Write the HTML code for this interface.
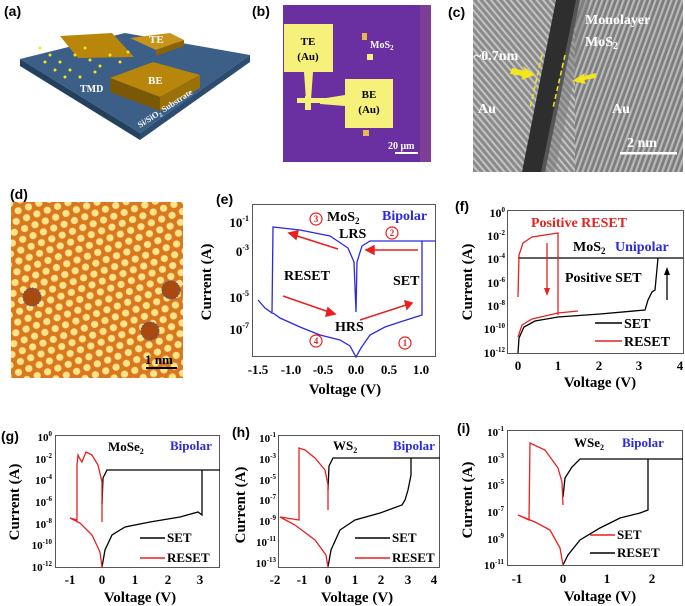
<!DOCTYPE html>
<html><head><meta charset="utf-8"><style>
html,body{margin:0;padding:0;background:#fff}
svg{display:block}
.L{font-family:"Liberation Sans",sans-serif;font-weight:bold;font-size:14px}
.s{font-family:"Liberation Serif",serif;font-weight:bold}
</style></head><body>
<svg width="685" height="606" viewBox="0 0 685 606" xmlns="http://www.w3.org/2000/svg">
<defs>
<pattern id="hex" width="11" height="19" patternUnits="userSpaceOnUse" patternTransform="rotate(-20)">
<rect width="11" height="19" fill="#d9781e"/>
<circle cx="5.5" cy="4.7" r="3.6" fill="#fde48a"/>
<circle cx="0" cy="14.2" r="3.6" fill="#fde48a"/>
<circle cx="11" cy="14.2" r="3.6" fill="#fde48a"/>
</pattern>
<pattern id="str" width="5" height="5" patternUnits="userSpaceOnUse" patternTransform="rotate(20)">
<rect width="5" height="5" fill="#7d7d7d"/>
<rect width="2.2" height="5" fill="#b9b9b9"/>
</pattern>
<pattern id="str2" width="5" height="5" patternUnits="userSpaceOnUse" patternTransform="rotate(-40)">
<rect width="5" height="5" fill="#8a8a8a"/>
<rect width="2" height="5" fill="#c4c4c4"/>
</pattern>
</defs>

<!-- (a) -->
<text class="L" x="4" y="16">(a)</text>
<polygon points="20,59 125,33 250,55 140,133" fill="#3c5f87"/>
<polygon points="20,59 140,133 140,140 20,66" fill="#24405f"/>
<polygon points="140,133 250,55 250,62 140,140" fill="#2c4c70"/>
<polygon points="60,36 112,33 134,57 78,58" fill="#b8860b"/>
<polygon points="130,38 170,33 184,40 156,50" fill="#c8941a"/>
<polygon points="156,50 184,40 184,46 156,56" fill="#8a6408"/>
<polygon points="110,78 153,62 200,75 160,97" fill="#b8860b"/>
<polygon points="110,78 160,97 160,111 110,92" fill="#7a5806"/>
<polygon points="160,97 200,75 200,88 160,111" fill="#9a7008"/>
<g fill="#f5e616"><circle cx="40" cy="48" r="1.5"/><circle cx="50" cy="55" r="1.5"/><circle cx="60" cy="62" r="1.5"/><circle cx="70" cy="70" r="1.5"/><circle cx="80" cy="77" r="1.5"/><circle cx="45" cy="62" r="1.5"/><circle cx="55" cy="70" r="1.5"/><circle cx="65" cy="77" r="1.5"/><circle cx="90" cy="60" r="1.5"/><circle cx="100" cy="66" r="1.5"/><circle cx="110" cy="55" r="1.5"/><circle cx="120" cy="62" r="1.5"/><circle cx="85" cy="48" r="1.5"/><circle cx="75" cy="55" r="1.5"/><circle cx="95" cy="72" r="1.5"/><circle cx="128" cy="52" r="1.5"/></g>
<text class="s" x="149" y="43" font-size="11" fill="#fff">TE</text>
<text class="s" x="148" y="84" font-size="11" fill="#fff">BE</text>
<text class="s" x="80" y="92" font-size="10" fill="#fff">TMD</text>
<text class="s" x="140" y="128" font-size="8.5" fill="#fff" transform="rotate(-33 140 128)">Si/SiO<tspan font-size="6" dy="2">2</tspan><tspan dy="-2"> Substrate</tspan></text>

<!-- (b) -->
<text class="L" x="252" y="16">(b)</text>
<rect x="283" y="5" width="148" height="157" fill="#6a2fa0"/>
<rect x="420" y="5" width="11" height="157" fill="#7e3e95"/>
<rect x="284" y="24" width="49" height="48" fill="#f6f17a"/>
<polygon points="304,72 313,72 311,100 306,100" fill="#f6f17a"/>
<rect x="297" y="98" width="50" height="5" fill="#f6f17a"/>
<rect x="305" y="96" width="6" height="14" fill="#f6f17a"/>
<polygon points="320,99 345,95 345,106 320,104" fill="#f6f17a"/>
<rect x="345" y="79" width="48" height="49" fill="#f6f17a"/>
<rect x="362" y="33" width="5" height="7" fill="#e8b84a"/><rect x="367" y="54" width="6" height="6" fill="#f6f17a"/><rect x="363" y="130" width="6" height="6" fill="#e8b84a"/>
<text class="s" x="308" y="45" font-size="11" text-anchor="middle">TE</text>
<text class="s" x="308" y="60" font-size="11" text-anchor="middle">(Au)</text>
<text class="s" x="369" y="98" font-size="11" text-anchor="middle">BE</text>
<text class="s" x="369" y="113" font-size="11" text-anchor="middle">(Au)</text>
<text class="s" x="370" y="48" font-size="10" fill="#fff">MoS<tspan font-size="7" dy="2">2</tspan></text>
<text class="s" x="388" y="149" font-size="10" fill="#fff">20 μm</text>
<rect x="395" y="152" width="23" height="2" fill="#fff"/>

<!-- (c) -->
<text class="L" x="448" y="17">(c)</text>
<rect x="473" y="0" width="210" height="172" fill="url(#str2)"/>
<rect x="575" y="0" width="108" height="172" fill="url(#str)"/>
<polygon points="556,0 580,0 545,172 522,172" fill="#2e2e2e"/>
<polygon points="576,0 590,0 555,172 541,172" fill="#7d7d7d" opacity="0.5"/>
<line x1="542" y1="55" x2="530" y2="108" stroke="#f4e61a" stroke-width="1.5" stroke-dasharray="5,3"/>
<line x1="565" y1="55" x2="553" y2="108" stroke="#f4e61a" stroke-width="1.5" stroke-dasharray="5,3"/>
<polygon points="512,68 525,71 523,66 535,75 521,80 523,76 510,74" fill="#f4e61a"/>
<polygon points="596,78 584,80 586,84 572,81 585,73 584,76 596,73" fill="#f4e61a"/>
<text class="s" x="585" y="24" font-size="14" fill="#fff">Monolayer</text>
<text class="s" x="585" y="46" font-size="14" fill="#fff">MoS<tspan font-size="10" dy="3">2</tspan></text>
<text class="s" x="474" y="60" font-size="14" fill="#fff">~0.7nm</text>
<text class="s" x="478" y="113" font-size="14" fill="#fff">Au</text>
<text class="s" x="612" y="113" font-size="14" fill="#fff">Au</text>
<text class="s" x="627" y="147" font-size="14" fill="#fff">2 nm</text>
<rect x="620" y="152" width="57" height="2.5" fill="#fff"/>

<!-- (d) -->
<text class="L" x="10" y="199">(d)</text>
<rect x="11" y="202" width="172" height="176" fill="url(#hex)"/>
<g fill="#a84a10" stroke="#3355aa" stroke-width="1" stroke-dasharray="1.5,1.5"><circle cx="32" cy="297" r="9"/><circle cx="171" cy="290" r="9"/><circle cx="150" cy="331" r="9"/></g>
<text class="s" x="145" y="364" font-size="13">1 nm</text>
<rect x="146" y="367" width="31" height="2" fill="#000"/>

<!-- (e) -->
<text class="L" x="216" y="204">(e)</text>
<rect x="252.5" y="204.5" width="183" height="152" fill="none" stroke="#555"/>
<g class="s" font-size="13" text-anchor="end">
<text x="249" y="227">10<tspan font-size="8" dy="-6">-1</tspan></text>
<text x="249" y="256">0<tspan font-size="8" dy="-6">-3</tspan></text>
<text x="249" y="302">10<tspan font-size="8" dy="-6">-5</tspan></text>
<text x="249" y="334">10<tspan font-size="8" dy="-6">-7</tspan></text>
</g>
<g class="s" font-size="13" text-anchor="middle">
<text x="258" y="374">-1.5</text><text x="291" y="374">-1.0</text><text x="323" y="374">-0.5</text><text x="356" y="374">0.0</text><text x="389" y="374">0.5</text><text x="421" y="374">1.0</text>
<text x="345" y="394" font-size="15">Voltage (V)</text>
<text x="0" y="0" font-size="15" transform="translate(211 282) rotate(-90)">Current (A)</text>
</g>
<path d="M258,300 L265,308 L272,313 L273,227 L300,230 L330,236 L348,248 L354,262 L356,312 L357,262 L362,246 L370,241 L435,241 M422,241 L422,315 L400,322 L385,327 L370,335 L361,348 L356,357 L350,346 L340,340 L320,335 L300,327 L280,318 L273,313" fill="none" stroke="#2a2ae0" stroke-width="1.3"/>
<g stroke="#e82020" stroke-width="1.5" fill="#e82020">
<line x1="338" y1="249" x2="294" y2="235"/><polygon points="289,233 298,231 296,239"/>
<line x1="418" y1="250" x2="372" y2="250"/><polygon points="366,250 374,246 374,254"/>
<line x1="283" y1="296" x2="329" y2="312"/><polygon points="335,314 326,316 328,308"/>
<line x1="360" y1="320" x2="406" y2="305"/><polygon points="412,303 405,301 407,309"/>
</g>
<g fill="none" stroke="#e82020" stroke-width="1.2"><circle cx="316" cy="219" r="6"/><circle cx="392" cy="233" r="6"/><circle cx="316" cy="341" r="6"/><circle cx="405" cy="343" r="6"/></g>
<g class="s" font-size="9" fill="#e82020" text-anchor="middle"><text x="316" y="222">3</text><text x="392" y="236">2</text><text x="316" y="344">4</text><text x="405" y="346">1</text></g>
<g class="s" font-size="14">
<text x="327" y="221">MoS<tspan font-size="9" dy="3">2</tspan></text>
<text x="382" y="220" fill="#2a2ae0">Bipolar</text>
<text x="339" y="238">LRS</text>
<text x="284" y="280">RESET</text>
<text x="393" y="285">SET</text>
<text x="335" y="331">HRS</text>
</g>

<!-- (f) -->
<text class="L" x="455" y="211">(f)</text>
<rect x="507.5" y="210.5" width="176" height="143" fill="none" stroke="#555"/>
<g class="s" font-size="12" text-anchor="end">
<text x="505" y="217">10<tspan font-size="7" dy="-5">0</tspan></text>
<text x="505" y="240">10<tspan font-size="7" dy="-5">-2</tspan></text>
<text x="505" y="263">10<tspan font-size="7" dy="-5">-4</tspan></text>
<text x="505" y="287">10<tspan font-size="7" dy="-5">-6</tspan></text>
<text x="505" y="310">10<tspan font-size="7" dy="-5">-8</tspan></text>
<text x="505" y="333">10<tspan font-size="7" dy="-5">-10</tspan></text>
<text x="505" y="357">10<tspan font-size="7" dy="-5">-12</tspan></text>
</g>
<g class="s" font-size="13" text-anchor="middle">
<text x="518" y="370">0</text><text x="558" y="370">1</text><text x="599" y="370">2</text><text x="639" y="370">3</text><text x="680" y="370">4</text>
<text x="600" y="387" font-size="15">Voltage (V)</text>
<text x="0" y="0" font-size="15" transform="translate(472 282) rotate(-90)">Current (A)</text>
</g>
<path d="M518,258 L683,258 M518,353 L519,338 L524,327 L535,321 L558,317 L600,314 L645,310 L648,300 L652,292 L655,290 L658,258" fill="none" stroke="#000" stroke-width="1.3"/>
<path d="M518,297 L519,255 L523,243 L532,237 L558,233 L558,315 M518,337 L522,325 L532,319 L558,313 L578,311" fill="none" stroke="#e82020" stroke-width="1.3"/>
<line x1="547" y1="243" x2="547" y2="290" stroke="#e82020" stroke-width="1.3"/><polygon points="544,288 550,288 547,296" fill="#e82020"/>
<line x1="667" y1="300" x2="667" y2="273" stroke="#000" stroke-width="1.3"/><polygon points="664,275 670,275 667,267" fill="#000"/>
<g class="s" font-size="14">
<text x="531" y="227" fill="#e82020">Positive RESET</text>
<text x="573" y="251">MoS<tspan font-size="9" dy="3">2</tspan></text>
<text x="615" y="251" fill="#2a2ae0">Unipolar</text>
<text x="565" y="282">Positive SET</text>
<text x="624" y="328">SET</text><text x="624" y="346">RESET</text>
</g>
<line x1="595" y1="323" x2="622" y2="323" stroke="#000" stroke-width="1.5"/>
<line x1="595" y1="341" x2="622" y2="341" stroke="#e82020" stroke-width="1.5"/>

<!-- (g) -->
<text class="L" x="1" y="441">(g)</text>
<rect x="55.5" y="435.5" width="164" height="132" fill="none" stroke="#555"/>
<g class="s" font-size="11" text-anchor="end">
<text x="52" y="441">10<tspan font-size="7" dy="-5">0</tspan></text>
<text x="52" y="463">10<tspan font-size="7" dy="-5">-2</tspan></text>
<text x="52" y="484">10<tspan font-size="7" dy="-5">-4</tspan></text>
<text x="52" y="506">10<tspan font-size="7" dy="-5">-6</tspan></text>
<text x="52" y="528">10<tspan font-size="7" dy="-5">-8</tspan></text>
<text x="52" y="549">10<tspan font-size="7" dy="-5">-10</tspan></text>
<text x="52" y="571">10<tspan font-size="7" dy="-5">-12</tspan></text>
</g>
<g class="s" font-size="13" text-anchor="middle">
<text x="70" y="584">-1</text><text x="102" y="584">0</text><text x="135" y="584">1</text><text x="168" y="584">2</text><text x="200" y="584">3</text>
<text x="140" y="602" font-size="15">Voltage (V)</text>
<text x="0" y="0" font-size="15" transform="translate(19 502) rotate(-90)">Current (A)</text>
</g>
<path d="M102,504 L103,478 L107,470 L220,470 M202,470 L202,515 L198,512 L180,517 L150,522 L125,527 L112,535 L105,550 L102,567" fill="none" stroke="#000" stroke-width="1.3"/>
<path d="M102,522 L102,482 L98,465 L92,455 L86,452 L82,462 L80,459 L78,455 L77,465 L77,520 L70,518 L80,523 L92,535 L100,552 L102,567" fill="none" stroke="#e82020" stroke-width="1.3"/>
<g class="s" font-size="13">
<text x="108" y="451">MoSe<tspan font-size="8" dy="3">2</tspan></text>
<text x="170" y="450" fill="#2a2ae0">Bipolar</text>
<text x="167" y="542">SET</text><text x="167" y="562">RESET</text>
</g>
<line x1="140" y1="538" x2="165" y2="538" stroke="#000" stroke-width="1.5"/>
<line x1="140" y1="558" x2="165" y2="558" stroke="#e82020" stroke-width="1.5"/>

<!-- (h) -->
<text class="L" x="232" y="437">(h)</text>
<rect x="278.5" y="435.5" width="161" height="132" fill="none" stroke="#555"/>
<g class="s" font-size="11" text-anchor="end">
<text x="276" y="442">10<tspan font-size="7" dy="-5">-1</tspan></text>
<text x="276" y="463">10<tspan font-size="7" dy="-5">-3</tspan></text>
<text x="276" y="484">10<tspan font-size="7" dy="-5">-5</tspan></text>
<text x="276" y="504">10<tspan font-size="7" dy="-5">-7</tspan></text>
<text x="276" y="525">10<tspan font-size="7" dy="-5">-9</tspan></text>
<text x="276" y="546">10<tspan font-size="7" dy="-5">-11</tspan></text>
<text x="276" y="567">10<tspan font-size="7" dy="-5">-13</tspan></text>
</g>
<g class="s" font-size="13" text-anchor="middle">
<text x="275" y="584">-2</text><text x="302" y="584">-1</text><text x="328" y="584">0</text><text x="355" y="584">1</text><text x="381" y="584">2</text><text x="408" y="584">3</text><text x="434" y="584">4</text>
<text x="357" y="602" font-size="15">Voltage (V)</text>
<text x="0" y="0" font-size="15" transform="translate(245 505) rotate(-90)">Current (A)</text>
</g>
<path d="M328,490 L329,466 L333,458 L440,458 M411,458 L411,475 L408,490 L405,500 L402,505 L380,513 L355,520 L340,530 L331,550 L328,567" fill="none" stroke="#000" stroke-width="1.3"/>
<path d="M328,510 L328,485 L325,470 L315,458 L305,450 L299,448 L299,520 L280,517 L295,525 L315,540 L326,555 L328,567" fill="none" stroke="#e82020" stroke-width="1.3"/>
<g class="s" font-size="13">
<text x="333" y="450">WS<tspan font-size="8" dy="3">2</tspan></text>
<text x="393" y="450" fill="#2a2ae0">Bipolar</text>
<text x="392" y="542">SET</text><text x="392" y="562">RESET</text>
</g>
<line x1="355" y1="538" x2="390" y2="538" stroke="#000" stroke-width="1.5"/>
<line x1="355" y1="558" x2="390" y2="558" stroke="#e82020" stroke-width="1.5"/>

<!-- (i) -->
<text class="L" x="457" y="433">(i)</text>
<rect x="507.5" y="430.5" width="175" height="135" fill="none" stroke="#555"/>
<g class="s" font-size="11" text-anchor="end">
<text x="504" y="436">10<tspan font-size="7" dy="-5">-1</tspan></text>
<text x="504" y="463">10<tspan font-size="7" dy="-5">-3</tspan></text>
<text x="504" y="489">10<tspan font-size="7" dy="-5">-5</tspan></text>
<text x="504" y="516">10<tspan font-size="7" dy="-5">-7</tspan></text>
<text x="504" y="543">10<tspan font-size="7" dy="-5">-9</tspan></text>
<text x="504" y="569">10<tspan font-size="7" dy="-5">-11</tspan></text>
</g>
<g class="s" font-size="13" text-anchor="middle">
<text x="517" y="583">-1</text><text x="563" y="583">0</text><text x="607" y="583">1</text><text x="652" y="583">2</text>
<text x="600" y="601" font-size="15">Voltage (V)</text>
<text x="0" y="0" font-size="15" transform="translate(472 500) rotate(-90)">Current (A)</text>
</g>
<path d="M563,497 L565,478 L572,467 L580,459 L683,459 M648,459 L648,510 L640,513 L620,518 L600,528 L580,540 L568,555 L563,565" fill="none" stroke="#000" stroke-width="1.3"/>
<path d="M563,505 L562,482 L558,468 L545,450 L530,443 L529,520 L518,515 L535,522 L550,530 L560,548 L563,565" fill="none" stroke="#e82020" stroke-width="1.3"/>
<g class="s" font-size="13">
<text x="574" y="447">WSe<tspan font-size="8" dy="3">2</tspan></text>
<text x="622" y="447" fill="#2a2ae0">Bipolar</text>
<text x="617" y="539">SET</text><text x="617" y="557">RESET</text>
</g>
<line x1="590" y1="535" x2="615" y2="535" stroke="#e82020" stroke-width="1.5"/>
<line x1="590" y1="553" x2="615" y2="553" stroke="#000" stroke-width="1.5"/>
</svg>
</body></html>
